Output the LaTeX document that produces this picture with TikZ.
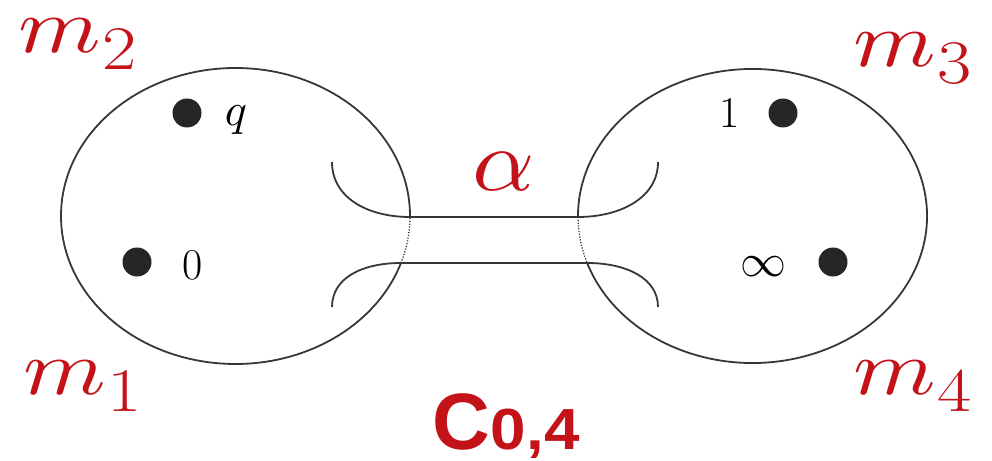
\documentclass[tikz,border=0pt]{standalone}
\usepackage{fontspec}
\usepackage{graphicx}
\newfontfamily\labsans{Liberation Sans}
\definecolor{mred}{RGB}{195,18,24}
\definecolor{lgray}{RGB}{55,55,55}
\tikzset{
  outline/.style={draw=lgray, line width=1.8pt},
  hidden/.style={draw=lgray, line width=1.3pt, dash pattern=on 1.2pt off 1.6pt},
  puncture/.style={circle, fill=black!85, inner sep=0pt, minimum size=29pt},
  ptlabel/.style={inner sep=0pt},
  redlabel/.style={inner sep=0pt, text=mred, anchor=base west},
}
\newcommand{\mlab}[1]{\scalebox{9.4}[7.8]{$m$}\kern2pt\raisebox{-17pt}{\scalebox{1.2}[1]{\fontsize{62}{64}\selectfont #1}}}
\begin{document}
\begin{tikzpicture}[x=1pt,y=1pt]
\useasboundingbox (0,0) rectangle (992,460);
% sphere centres
\coordinate (L) at (235.5,244);
\coordinate (R) at (752.5,244);
% left sphere
\draw[outline] (L) ++(-0.4:174.5pt and 148pt) arc[start angle=-0.4, end angle=341.5, x radius=174.5pt, y radius=148pt];
\draw[hidden] (L) ++(-18.5:174.5pt and 148pt) arc[start angle=-18.5, end angle=-0.4, x radius=174.5pt, y radius=148pt];
% right sphere
\draw[outline] (R) ++(198.6:174.5pt and 147pt) arc[start angle=198.6, end angle=540.4, x radius=174.5pt, y radius=147pt];
\draw[hidden] (R) ++(180.4:174.5pt and 147pt) arc[start angle=180.4, end angle=198.6, x radius=174.5pt, y radius=147pt];
% tube
\coordinate (ul) at (332,298);
\coordinate (ur) at (658,298);
\coordinate (ll) at (332,153);
\coordinate (lr) at (658,153);
\coordinate (tl) at (410,243);
\coordinate (tr) at (578,243);
\coordinate (bl) at (401,197);
\coordinate (br) at (587,197);
\draw[outline] (ul) .. controls (332,262) and (368,243) .. (tl) -- (tr) .. controls (620,243) and (658,262) .. (ur);
\draw[outline] (ll) .. controls (332,182) and (362,197) .. (bl) -- (br) .. controls (626,197) and (658,182) .. (lr);
% punctures
\node[puncture] (pq) at (187,347) {};
\node[puncture] (p0) at (137,198) {};
\node[puncture] (p1) at (783,347) {};
\node[puncture] (pinf) at (833,198) {};
\node[ptlabel, anchor=base] (tq) at (236,334) {\scalebox{4.6}{$q$}};
\node[ptlabel, anchor=base] (t0) at (193,180) {\fontsize{44}{46}\selectfont 0};
\node[ptlabel, anchor=base] (t1) at (730,332) {\fontsize{44}{46}\selectfont 1};
\node[ptlabel] (tinf) at (763,193) {\scalebox{4.6}{$\infty$}};
% red labels
\node[redlabel] (m2) at (18,407) {\mlab{2}};
\node[redlabel] (m1) at (23,65) {\mlab{1}};
\node[redlabel] (m3) at (853,393) {\mlab{3}};
\node[redlabel] (m4) at (853,65) {\mlab{4}};
\node[inner sep=0pt, text=mred] (al) at (504,288) {\scalebox{9.7}[8.8]{$\alpha$}};
\node[redlabel] (c04) at (432,10) {\labsans\bfseries\fontsize{80}{82}\selectfont C\kern1pt\scalebox{1.1}[1]{\fontsize{58}{60}\selectfont 0,4}};
\end{tikzpicture}
\end{document}
